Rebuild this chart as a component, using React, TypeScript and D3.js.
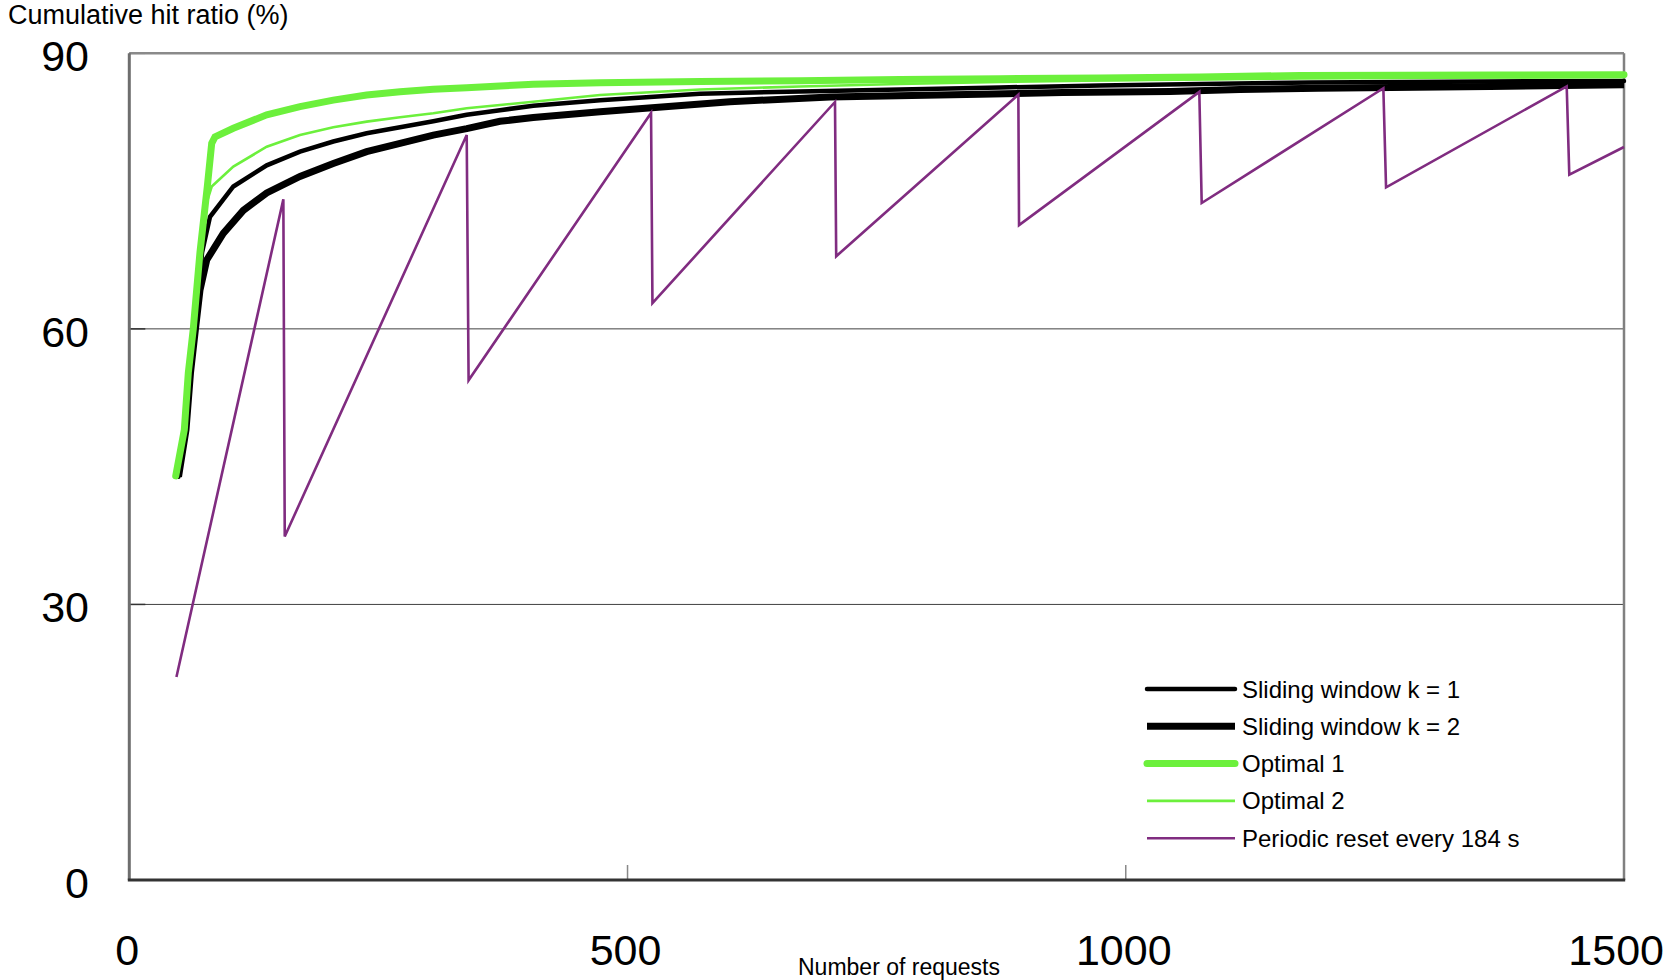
import React from "react";
import * as d3 from "d3";

// axis ticks
const xTicks = [0, 500, 1000, 1500];
const yTicks = [0, 30, 60, 90];

const chartTitle = "Cumulative hit ratio (%)";
const xTitle = "Number of requests";

const legendLabels = [
  "Sliding window k = 1",
  "Sliding window k = 2",
  "Optimal 1",
  "Optimal 2",
  "Periodic reset every 184 s",
];

// series values, [requests, ratio]
const thinBlack: [number, number][] = [
  [49.4, 43.9], [56.9, 49.0], [61.4, 55.2], [66.4, 60.0], [73.0, 68.3], [81.0, 72.2],
  [104.4, 75.5], [137.9, 77.8], [171.3, 79.3], [204.7, 80.4], [238.2, 81.3], [271.7, 81.95],
  [305.1, 82.6], [338.6, 83.3], [372.0, 83.8], [405.4, 84.3], [472.4, 84.9], [572.7, 85.6],
  [673.1, 85.84], [773.4, 86.06], [873.8, 86.28], [974.1, 86.5], [1074.5, 86.66],
  [1185.9, 86.82], [1365.5, 86.93], [1500, 86.99],
];

const thickBlack: [number, number][] = [
  [49.4, 43.9], [56.9, 49.0], [61.4, 55.2], [66.4, 60.0], [70.9, 64.2], [77.7, 67.5],
  [94.3, 70.4], [114.4, 72.9], [137.9, 74.8], [171.3, 76.6], [204.7, 78.0], [238.2, 79.3],
  [271.7, 80.2], [305.1, 81.1], [338.6, 81.8], [372.0, 82.6], [405.4, 83.0], [472.4, 83.64],
  [602.8, 84.73], [703.2, 85.25], [853.7, 85.54], [937.0, 85.73], [1044.4, 85.84],
  [1114.6, 86.06], [1192.9, 86.2], [1365.5, 86.39], [1500, 86.57],
];

const thickGreen: [number, number][] = [
  [46.6, 44.0], [55.2, 49.0], [59.2, 55.2], [64.2, 60.0], [70.9, 68.3], [78.3, 75.5],
  [82.7, 80.2], [86.0, 80.9], [104.4, 81.84], [137.9, 83.3], [171.3, 84.2], [204.7, 84.9],
  [238.2, 85.46], [271.7, 85.82], [305.1, 86.08], [338.6, 86.26], [372.0, 86.44],
  [405.4, 86.63], [472.4, 86.8], [572.7, 86.93], [673.1, 87.02], [773.4, 87.15],
  [873.8, 87.24], [974.1, 87.31], [1074.5, 87.42], [1174.9, 87.59], [1275.2, 87.62],
  [1375.6, 87.64], [1500, 87.67],
];

const thinGreen: [number, number][] = [
  [46.6, 44.0], [55.2, 49.0], [59.2, 55.2], [64.2, 60.0], [70.9, 68.3], [76.9, 73.5],
  [82.7, 75.5], [104.4, 77.66], [137.9, 79.83], [171.3, 81.11], [204.7, 81.95],
  [238.2, 82.56], [271.7, 83.03], [305.1, 83.47], [338.6, 84.02], [372.0, 84.37],
  [405.4, 84.73], [472.4, 85.46], [572.7, 86.06], [673.1, 86.39], [773.4, 86.66],
  [873.8, 86.88], [974.1, 87.04], [1074.5, 87.15], [1174.9, 87.26], [1275.2, 87.31],
  [1375.6, 87.37], [1500, 87.42],
];

const purple: [number, number][] = [
  [47.3, 22.1], [154.6, 74.1], [156.0, 37.4], [338.6, 81.1], [340.5, 54.4],
  [523.6, 83.5], [525.0, 62.8], [708.2, 84.7], [709.4, 67.9], [892.2, 85.5],
  [892.9, 71.3], [1073.8, 85.8], [1076.2, 73.7], [1258.5, 86.2], [1261.2, 75.4],
  [1442.5, 86.4], [1445.1, 76.8], [1500, 79.8],
];

const W = 1666, H = 980;
const left = 129.3, right = 1624, top = 53.3, bottom = 880;

const GREEN = "#6cf03c";
const PURPLE = "#802c80";

// drawing order: thick black under, purple on top
const styles = [
  { data: thickBlack, color: "#000", width: 7, cap: "butt" },
  { data: thinBlack, color: "#000", width: 4.5, cap: "round" },
  { data: thinGreen, color: GREEN, width: 2.6, cap: "butt" },
  { data: thickGreen, color: GREEN, width: 7, cap: "round" },
  { data: purple, color: PURPLE, width: 2.6, cap: "butt" },
];

// legend order: thin black, thick black, thick green, thin green, purple
const legendStyle = [
  { color: "#000", width: 4.5, cap: "round" },
  { color: "#000", width: 7, cap: "butt" },
  { color: GREEN, width: 7, cap: "round" },
  { color: GREEN, width: 2.6, cap: "butt" },
  { color: PURPLE, width: 2.6, cap: "butt" },
];

export default function App() {
  const x = d3.scaleLinear().domain([0, 1500]).range([left, right]);
  const y = d3.scaleLinear().domain([0, 90]).range([bottom, top]);
  const line = d3.line<[number, number]>().x(d => x(d[0])).y(d => y(d[1]));

  const font = "'Liberation Sans', Arial, sans-serif";
  const tickSize = 43;

  return (
    <svg width={W} height={H} style={{ position: "absolute", left: 0, top: 0, background: "#fff" }}
      fontFamily={font}>
      <rect x={0} y={0} width={W} height={H} fill="#fff" />
      <text x={8} y={15} fontSize={27} dominantBaseline="central">{chartTitle}</text>

      {/* grid */}
      {yTicks.slice(1, -1).map(t => (
        <line key={t} x1={left} x2={right} y1={y(t)} y2={y(t)} stroke="#404040" strokeWidth={1} />
      ))}

      {/* inner ticks */}
      {yTicks.map(t => (
        <line key={"yt" + t} x1={left} x2={left + 16} y1={y(t)} y2={y(t)} stroke="#333" strokeWidth={1.5} />
      ))}
      {xTicks.slice(1, -1).map(t => (
        <line key={"xt" + t} x1={x(t)} x2={x(t)} y1={bottom - 15} y2={bottom} stroke="#888" strokeWidth={1.5} />
      ))}

      {/* frame */}
      <line x1={left} x2={right} y1={top} y2={top} stroke="#8a8a8a" strokeWidth={2.5} />
      <line x1={right} x2={right} y1={top} y2={bottom} stroke="#808080" strokeWidth={2.5} />
      <line x1={left} x2={left} y1={top} y2={bottom} stroke="#6e6e6e" strokeWidth={3} />
      <line x1={left - 1.5} x2={right + 1.2} y1={bottom} y2={bottom} stroke="#333" strokeWidth={3} />

      {/* series */}
      {styles.map((s, i) => (
        <path key={i} d={line(s.data) || ""} fill="none" stroke={s.color}
          strokeWidth={s.width} strokeLinecap={s.cap as any} strokeLinejoin="miter" />
      ))}

      {/* y tick labels */}
      {yTicks.map(t => (
        <text key={"yl" + t} x={89} y={y(t) + 3} fontSize={tickSize} textAnchor="end" dominantBaseline="central">{t}</text>
      ))}
      {/* x tick labels, the last one kept inside the page */}
      {xTicks.map(t => {
        const half = (String(t).length * tickSize * 0.556) / 2;
        const cx = Math.min(x(t) - 2, W - 2 - half);
        return (
          <text key={"xl" + t} x={cx} y={950} fontSize={tickSize} textAnchor="middle" dominantBaseline="central">{t}</text>
        );
      })}
      <text x={899} y={967} fontSize={23} textAnchor="middle" dominantBaseline="central">{xTitle}</text>

      {/* legend */}
      {legendLabels.map((lab, i) => {
        const ly = 689 + i * 37.3;
        const st = legendStyle[i];
        return (
          <g key={"lg" + i}>
            <line x1={1147} x2={1235} y1={ly} y2={ly} stroke={st.color} strokeWidth={st.width}
              strokeLinecap={st.cap as any} />
            <text x={1242} y={ly} fontSize={24} dominantBaseline="central">{lab}</text>
          </g>
        );
      })}
    </svg>
  );
}
